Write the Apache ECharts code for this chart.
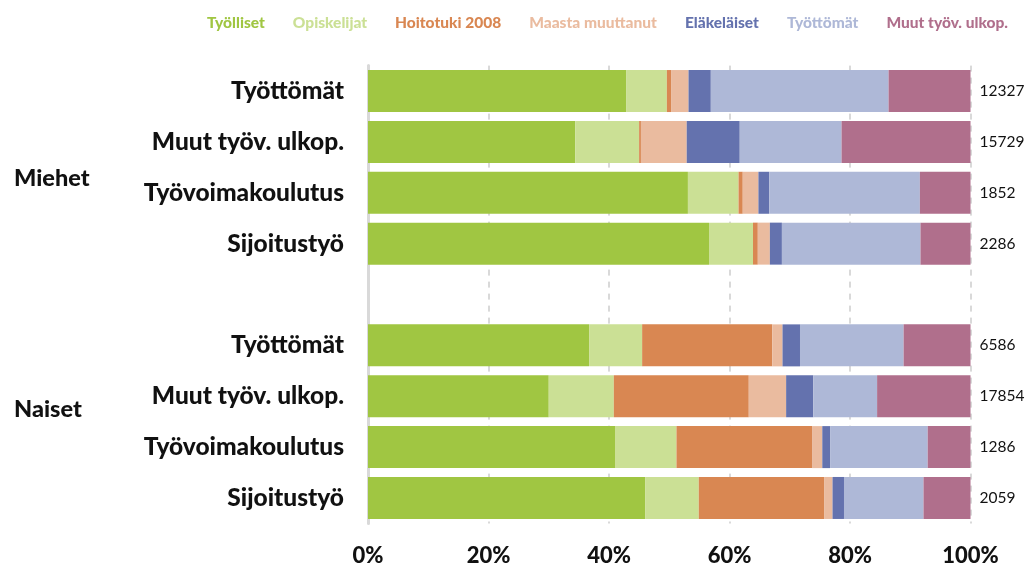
<!DOCTYPE html>
<html>
<head>
<meta charset="utf-8">
<script src="https://cdn.jsdelivr.net/npm/echarts@6/dist/echarts.min.js"></script>
<style>
html,body{margin:0;padding:0;background:#fff;}
#chart{width:1035px;height:570px;}
</style>
</head>
<body>
<div id="chart"></div>
<script>
// Row labels (top to bottom); '' is the spacer row between groups
var categories = ['Työttömät','Muut työv. ulkop.','Työvoimakoulutus','Sijoitustyö','','Työttömät','Muut työv. ulkop.','Työvoimakoulutus','Sijoitustyö'];
var counts = ['12327','15729','1852','2286','','6586','17854','1286','2059'];
var groupLabels = ['Miehet','Naiset'];
var seriesNames = ['Työlliset','Opiskelijat','Hoitotuki 2008','Maasta muuttanut','Eläkeläiset','Työttömät','Muut työv. ulkop.'];
var xTicks = ['0%','20%','40%','60%','80%','100%'];

// Shares (%) per row
var tyolliset   = [42.9, 34.4, 53.1, 56.6, null, 36.7, 30.0, 41.0, 46.0];
var opiskelijat = [ 6.7, 10.6,  8.4,  7.3, null,  8.8, 10.8, 10.2,  8.9];
var hoitotuki   = [ 0.7,  0.3,  0.7,  0.8, null, 21.6, 22.4, 22.5, 20.8];
var maasta      = [ 2.9,  7.6,  2.6,  2.0, null,  1.7,  6.2,  1.7,  1.4];
var elakelaiset = [ 3.7,  8.8,  1.8,  2.0, null,  2.9,  4.5,  1.3,  1.9];
var tyottomat   = [29.5, 16.9, 25.0, 23.0, null, 17.2, 10.6, 16.2, 13.2];
var muut        = [13.6, 21.4,  8.4,  8.3, null, 11.1, 15.5,  7.1,  7.8];

var colors = ['#a0c642','#cbe095','#d98752','#eabb9f','#6472ae','#aeb8d7','#b06f8c'];
var seriesData = [tyolliset, opiskelijat, hoitotuki, maasta, elakelaiset, tyottomat, muut];

var keys = categories.map(function(c,i){ return 'r'+i; });
var FONT = 'Lato';

var chart = echarts.init(document.getElementById('chart'), null, {renderer:'canvas'});
var option = {
  animation: false,
  color: colors,
  legend: {
    top: 10,
    right: 22,
    itemWidth: 0,
    itemHeight: 0,
    itemGap: 23,
    icon: 'rect',
    selectedMode: false,
    data: seriesNames.map(function(n,i){
      return {name:n, textStyle:{color:colors[i], fontFamily:FONT, fontWeight:900, fontSize:15.5}};
    })
  },
  grid: {left: 368, right: 64.5, top: 65.6, bottom: 46.6, containLabel:false},
  xAxis: {
    type: 'value', min: 0, max: 100, interval: 20,
    axisLine: {show:false},
    axisTick: {show:false},
    splitLine: {show:true, lineStyle:{color:'#d9d9d9', type:[6,6], width:2}},
    axisLabel: {
      formatter: function(v){ return xTicks[Math.round(v/20)]; },
      color:'#111', fontFamily:FONT, fontWeight:900, fontSize:22, margin:22
    }
  },
  yAxis: [{
    type:'category', inverse:true, data: keys,
    axisLine:{show:true, lineStyle:{color:'#d9d9d9', width:3}},
    axisTick:{show:false},
    axisLabel:{
      formatter:function(v){ return categories[keys.indexOf(v)]; },
      color:'#111', fontFamily:FONT, fontWeight:900, fontSize:24.5, margin:24
    }
  },{
    type:'category', inverse:true, position:'right', data: keys,
    axisLine:{show:false}, axisTick:{show:false},
    axisLabel:{
      formatter:function(v){ return counts[keys.indexOf(v)]; },
      color:'#111', fontFamily:FONT, fontSize:15.5, margin:9, align:'left'
    }
  }],
  graphic: [
    {type:'text', left:14, top:166, style:{text:groupLabels[0], fill:'#111', font:'900 23.5px '+FONT}},
    {type:'text', left:14, top:397, style:{text:groupLabels[1], fill:'#111', font:'900 23.5px '+FONT}}
  ],
  series: seriesNames.map(function(n,i){
    return {
      name:n, type:'bar', stack:'total', yAxisIndex:0,
      barWidth: 42,
      itemStyle:{color:colors[i]},
      data: seriesData[i]
    };
  })
};
chart.setOption(option);
</script>
</body>
</html>
